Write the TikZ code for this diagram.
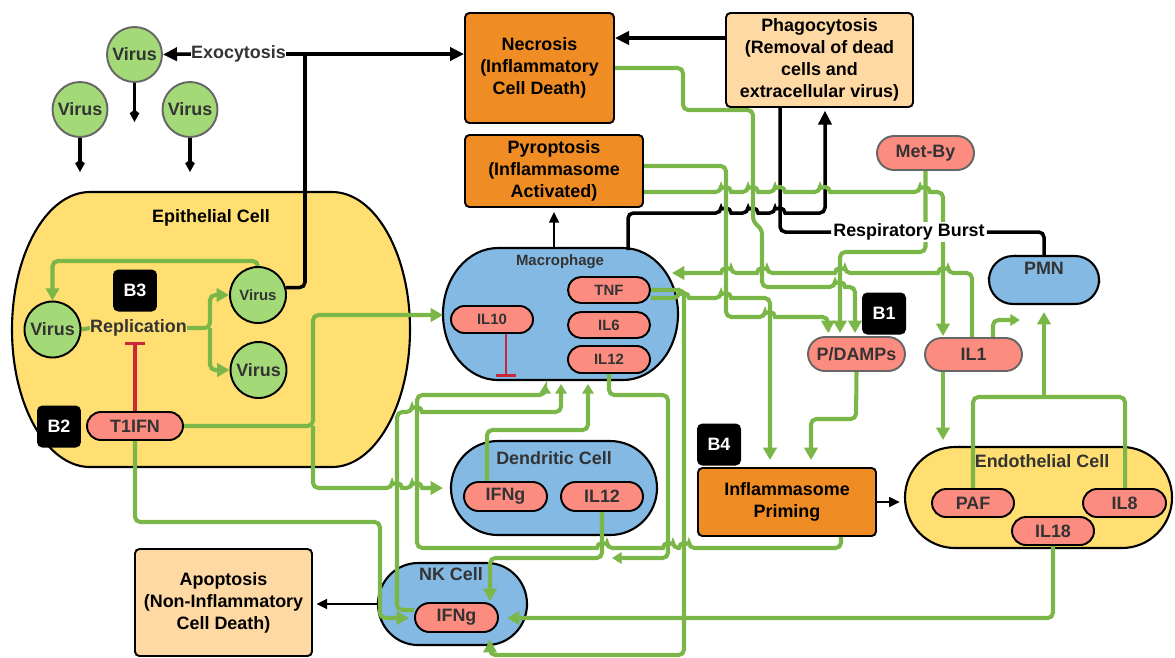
\documentclass[tikz,border=0pt]{standalone}
\usepackage{fontspec}
\setmainfont{Liberation Sans}
\usetikzlibrary{arrows.meta,shapes.misc}
\pgfdeclarelayer{bg}\pgfdeclarelayer{lines}
\pgfsetlayers{bg,lines,main}
\definecolor{lgreen}{HTML}{7AB648}
\definecolor{vgreen}{HTML}{A3D977}
\definecolor{pinkc}{HTML}{FC8C7F}
\definecolor{bluec}{HTML}{83B9E3}
\definecolor{yelc}{HTML}{FFDF71}
\definecolor{orac}{HTML}{F08C24}
\definecolor{peach}{HTML}{FFD9A3}
\definecolor{txtc}{HTML}{333333}
\definecolor{grayb}{HTML}{666666}
\definecolor{redc}{HTML}{C8283A}
\newcommand\ftA{\fontsize{10.2pt}{12.5pt}\selectfont\bfseries}
\newcommand\ftS{\fontsize{8.5pt}{10pt}\selectfont\bfseries}
\newcommand\cellpath[7]{%
 \pgfmathsetmacro\cxa{#1+#5}\pgfmathsetmacro\cxb{#3-#5}%
 \pgfmathsetmacro\cya{#2+#6}\pgfmathsetmacro\cyb{#4-#6}%
 \pgfmathsetmacro\crx{#5*0.02}\pgfmathsetmacro\cry{#6*0.02}%
 \draw[line width=1.2pt,fill=#7] (\cxa,#2) -- (\cxb,#2) arc[start angle=90,end angle=0,x radius=\crx cm,y radius=\cry cm] -- (#3,\cyb) arc[start angle=0,end angle=-90,x radius=\crx cm,y radius=\cry cm] -- (\cxa,#4) arc[start angle=270,end angle=180,x radius=\crx cm,y radius=\cry cm] -- (#1,\cya) arc[start angle=180,end angle=90,x radius=\crx cm,y radius=\cry cm] -- cycle;}
\newcommand\bR[2]{-- ({#1-5},#2) [sharp corners] arc[start angle=180,end angle=0,radius=0.1cm] [rounded corners=3pt]}
\newcommand\bL[2]{-- ({#1+5},#2) [sharp corners] arc[start angle=0,end angle=180,radius=0.1cm] [rounded corners=3pt]}
\begin{document}
\begin{tikzpicture}[x=0.02cm,y=-0.02cm,
 gline/.style={draw=lgreen,line width=2.3pt,rounded corners=3pt},
 garrow/.style={gline,-{Triangle[length=7pt,width=7.5pt]}},
 garrowS/.style={gline,-{Triangle[length=5.5pt,width=6.5pt]}},
 bline/.style={draw=black,line width=2pt,rounded corners=3pt},
 barrow/.style={bline,-{Triangle[length=8pt,width=7.5pt]}},
 tarrow/.style={draw=black,line width=1.2pt,-{Triangle[length=6pt,width=5.5pt]}},
 varrow/.style={draw=black,line width=2pt,-{Kite[length=7pt,width=5.5pt,inset=2pt]}},
 cbox/.style={draw=black,line width=1.1pt,rounded corners=2.5pt,align=center,font=\ftA,text=black,inner sep=0pt},
 pill/.style={rounded rectangle,draw=black,line width=1.1pt,fill=pinkc,font=\ftA,text=txtc,inner sep=0pt},
 opill/.style={pill,draw=grayb},
 virus/.style={circle,draw=black,line width=1.1pt,fill=vgreen,font=\ftA,text=txtc,inner sep=0pt,minimum size=1.12cm},
 ovirus/.style={virus,draw=grayb,minimum size=1.1cm},
 bbox/.style={fill=black,rounded corners=3pt,text=white,font=\ftA,minimum width=0.88cm,minimum height=0.84cm,inner sep=0pt},
 lbl/.style={font=\ftA,text=txtc,inner sep=0pt},
 area/.style={inner sep=0pt,outer sep=0pt}]
\useasboundingbox (0,0) rectangle (1175,657);

% ---------- cells (background) ----------
\begin{pgfonlayer}{bg}
\cellpath{12}{192}{410}{467}{78}{137.5}{yelc}
\cellpath{443}{248}{678}{380}{55}{66}{bluec}
\cellpath{451}{441}{657}{535}{47}{47}{bluec}
\cellpath{378}{563}{527}{645}{40}{41}{bluec}
\cellpath{905}{447}{1172}{548}{50}{50.5}{yelc}
\cellpath{989}{256}{1099}{304}{24}{24}{bluec}
\end{pgfonlayer}

\node[area,minimum width=7.96cm,minimum height=5.5cm] (epi) at (211,329.5) {};
\node[area,minimum width=4.7cm,minimum height=2.64cm] (mac) at (560.5,314) {};
\node[area,minimum width=4.12cm,minimum height=1.88cm] (dc) at (554,488) {};
\node[area,minimum width=2.98cm,minimum height=1.64cm] (nk) at (452.5,604) {};
\node[area,minimum width=5.34cm,minimum height=2.02cm] (endo) at (1038.5,497.5) {};
\node[area,minimum width=2.2cm,minimum height=0.96cm] (pmn) at (1044,280) {};

% ---------- nodes ----------
\node[ovirus] (v1) at (134.5,54.5) {Virus};
\node[ovirus] (v2) at (80,109.5) {Virus};
\node[ovirus] (v3) at (190,109.5) {Virus};
\node[lbl] (exo) at (238.5,54) {Exocytosis};

\node[lbl,text=black] (epil) at (211,218) {Epithelial Cell};
\node[virus,font=\ftS] (vi1) at (258,295) {Virus};
\node[virus] (vi2) at (52.5,329.5) {Virus};
\node[virus] (vi3) at (258.5,370) {Virus};
\node[lbl] (repl) at (138.5,328) {Replication};
\node[bbox] (b3) at (135,290.5) {B3};
\node[bbox] (b2) at (59,426.5) {B2};
\node[pill,minimum width=1.92cm,minimum height=0.56cm] (t1ifn) at (135,426) {T1IFN};

\node[cbox,fill=orac,minimum width=2.98cm,minimum height=2.2cm] (necrosis) at (539.5,68) {Necrosis\\(Inflammatory\\Cell Death)};
\node[cbox,fill=peach,minimum width=3.74cm,minimum height=1.88cm] (phago) at (819.5,60) {Phagocytosis\\(Removal of dead\\cells and\\extracellular virus)};
\node[cbox,fill=orac,minimum width=3.56cm,minimum height=1.44cm] (pyro) at (554,171) {Pyroptosis\\(Inflammasome\\Activated)};
\node[opill,minimum width=1.94cm,minimum height=0.68cm] (metby) at (925.5,153) {Met-By};
\node[lbl,text=black,fill=white,inner xsep=1pt,inner ysep=1pt] (resp) at (909,232) {Respiratory Burst};

\node[lbl,font=\ftS] (macl) at (560,262) {Macrophage};
\node[pill,font=\ftS,minimum width=1.64cm,minimum height=0.52cm] (tnf) at (609,290) {TNF};
\node[pill,font=\ftS,minimum width=1.64cm,minimum height=0.52cm] (il6) at (609,325) {IL6};
\node[pill,font=\ftS,minimum width=1.64cm,minimum height=0.54cm] (il12m) at (609,359.5) {IL12};
\node[pill,font=\ftS,minimum width=1.64cm,minimum height=0.54cm] (il10) at (492,319.5) {IL10};

\node[bbox] (b1) at (884,313.5) {B1};
\node[opill,minimum width=1.94cm,minimum height=0.68cm] (pdamps) at (856.5,354) {P/DAMPs};
\node[opill,minimum width=1.94cm,minimum height=0.66cm] (il1) at (973.5,354.5) {IL1};
\node[lbl] (pmnl) at (1044,268) {PMN};

\node[lbl] (dcl) at (554,458) {Dendritic Cell};
\node[pill,minimum width=1.66cm,minimum height=0.58cm] (dcifng) at (505.5,496.5) {IFNg};
\node[pill,minimum width=1.64cm,minimum height=0.58cm] (dcil12) at (602,496.5) {IL12};

\node[bbox] (b4) at (719,444.5) {B4};
\node[cbox,fill=orac,minimum width=3.56cm,minimum height=1.36cm] (inflam) at (787,502) {Inflammasome\\Priming};

\node[lbl] (endol) at (1042,461) {Endothelial Cell};
\node[pill,minimum width=1.64cm,minimum height=0.56cm] (paf) at (973,503) {PAF};
\node[pill,minimum width=1.66cm,minimum height=0.56cm] (il8) at (1124.5,503) {IL8};
\node[pill,minimum width=1.64cm,minimum height=0.56cm] (il18) at (1053,531) {IL18};

\node[lbl] (nkl) at (451,574) {NK Cell};
\node[pill,minimum width=1.66cm,minimum height=0.58cm] (nkifng) at (456.5,617.5) {IFNg};

\node[cbox,fill=peach,minimum width=3.54cm,minimum height=2.14cm] (apop) at (223.5,602.5) {Apoptosis\\(Non-Inflammatory\\Cell Death)};

% ---------- connectors ----------
\begin{pgfonlayer}{lines}
% black
\draw[varrow] (v1.south) -- (134.5,122);
\draw[varrow] (v2.south) -- (80,172);
\draw[varrow] (v3.south) -- (190,172);
\draw[bline] (vi1.15) -| (305,54) coordinate (jx);
\draw[barrow] (jx) -- (necrosis.west |- jx);
\draw[bline] (jx) -- (exo.east);
\draw[barrow] (exo.west) -- (v1.east);
\draw[barrow] (phago.west |- 0,38) -- (necrosis.east |- 0,38);
\draw[barrow,shorten >=1.5pt] (628,250) -- (628,213) \bR{726}{213} \bR{753}{213} \bR{780}{213} -- (825,213) -- (phago.south -| 825,0);
\draw[bline] (phago.south -| 780,0) -- (780,232) -- (resp.west);
\draw[bline] (resp.east) -- (1044,232) -- (pmn.north);
\draw[tarrow] (mac.north -| pyro.south) -- (pyro.south |- 0,212);
\draw[tarrow,shorten >=2pt] (nk.west |- 0,604) -- (apop.east |- 0,604);
\draw[tarrow,shorten >=3pt] (inflam.east) -- (endo.west |- inflam.east);

% red inhibitions
\draw[redc,line width=1.8pt,-{Bar[width=11pt]}] (t1ifn.north) -- (135,342);
\draw[redc,line width=1.6pt,-{Bar[width=11pt]}] (il10.south -| 506,0) -- (506,377);

% green inside epithelial cell
\draw[gline] (vi2.east) -- (repl.west);
\draw[garrow] (repl.east) -- (210,328) |- (vi1.west);
\draw[garrow] (210,328) |- (vi3.west);
\draw[garrow] (vi1.north) -- (258,261) -| (vi2.north);

% T1IFN
\draw[garrow] (t1ifn.east) -- (313,426) |- (mac.west |- 0,315);
\draw[garrow] (313,426) -- (313,488) \bR{397}{488} \bR{417}{488} -- (443,488);
\draw[garrow] (t1ifn.south) -- (135,522) -- (380,522) -- (380,618) -- (409,618);

% into macrophage from below
\draw[garrowS] (inflam.south -| 841,0) -- (841,548) \bL{684}{548} \bL{668}{548} \bL{602}{548} -- (417,548) -- (417,395) -- (545,395) -- (545,384);
\draw[garrowS] (nkifng.west |- 0,610) -- (397,610) -- (397,412) \bR{417}{412} -- (561,412) -- (561,384);
\draw[garrowS] (dcifng.north -| 487,0) -- (487,430) -- (588,430) -- (588,384);

% IL12 lines
\draw[garrowS] (il12m.south) -- (609,395) -- (668,395) -- (668,558) -- (612,558);
\draw[garrow] (dcil12.south) -- (602,558) -- (490,558) -- (490,601);

% TNF
\draw[garrow] (tnf.east |- 0,290) -- (684,290) -- (684,655) -- (490,655) -- (490,640);
\draw[garrow] (tnf.east |- 0,298) \bR{684}{298} \bR{726}{298} -- (770,298) -- (770,460);

% necrosis / pyroptosis
\draw[garrow] (necrosis.east |- 0,68) -- (683,68) -- (683,110) -- (753,110) -- (753,222) -- (762,229) -- (762,287) \bR{840}{287} -- (855,287) -- (855,333);
\draw[garrow] (pyro.east |- 0,166) -- (726,166) -- (726,317) \bR{770}{317} -- (828,317) -- (828,333);
\draw[garrow] (pyro.east |- 0,192) \bR{726}{192} \bR{753}{192} \bR{780}{192} \bR{825}{192} \bR{925}{192} -- (943,192) -- (943,336);

% Met-By, IL1, PMN, endothelial
\draw[garrow] (metby.south) -- (metby.south |- 0,252) -- (840,252) -- (840,333);
\draw[garrow] (il1.north -| 972,0) -- (972,273) \bL{943}{273} \bL{840}{273} \bL{762}{273} \bL{726}{273} -- (672,273);
\draw[garrowS] (il1.north -| 993,0) -- (993,320) -- (1020,320);
\draw[garrow] (il1.south -| 943,0) -- (943,440);
\draw[gline] (paf.north) -- (973,397) -- (1125,397) -- (il8.north -| 1125,0);
\draw[garrow] (1044,397) -- (1044,312);
\draw[garrow] (il18.south) -- (1053,618) -- (507,618);
\draw[garrow] (pdamps.south) -- (856,419) -- (811,419) -- (811,460);
\end{pgfonlayer}
\end{tikzpicture}
\end{document}
